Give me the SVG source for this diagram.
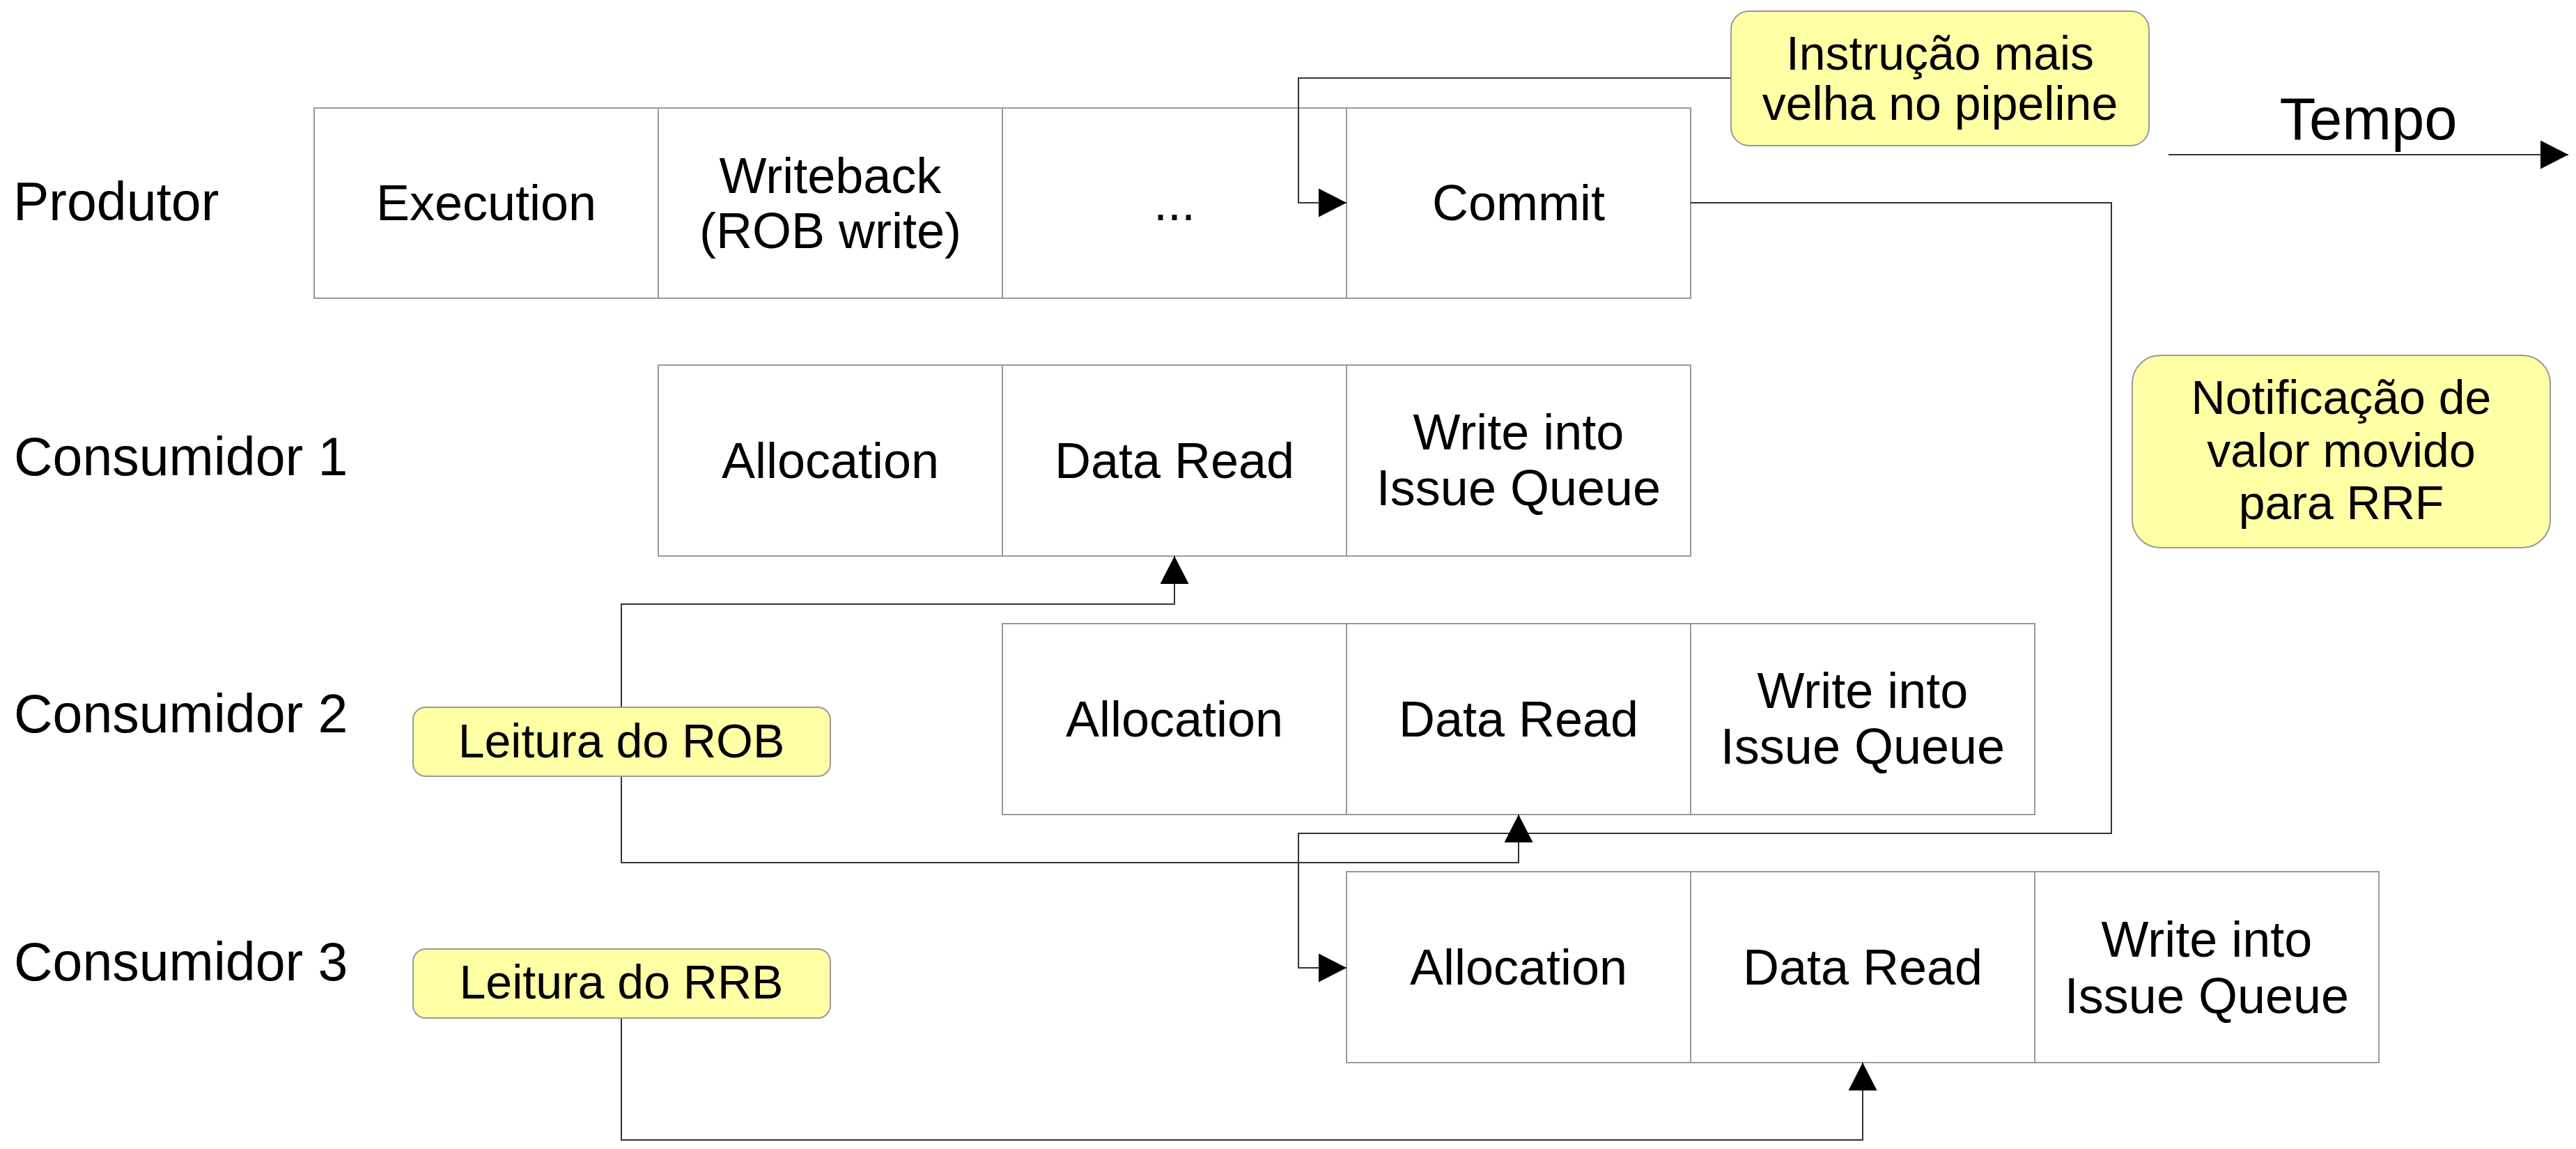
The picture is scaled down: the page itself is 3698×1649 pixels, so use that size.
<svg xmlns="http://www.w3.org/2000/svg" width="3698" height="1649" viewBox="0 0 3698 1649">
<style>
.cell{fill:#ffffff;stroke:#9a9a9a;stroke-width:2}
.note{fill:#ffffa6;stroke:#999999;stroke-width:2}
.t{font-family:"Liberation Sans",Arial,sans-serif;fill:#000000}
.c{font-size:72px;text-anchor:middle}
.n{font-size:68px;text-anchor:middle}
.lbl{font-size:77px}
.conn{fill:none;stroke:#333333;stroke-width:2}
</style>
<defs>
<marker id="arr" viewBox="0 0 40 41" refX="40" refY="20.5" markerWidth="40" markerHeight="41" markerUnits="userSpaceOnUse" orient="auto">
<path d="M0,0 L40,20.5 L0,41 z" fill="#000000"/>
</marker>
</defs>
<rect width="3698" height="1649" fill="#ffffff"/>

<g id="labels">
<text class="t lbl" x="19" y="316">Produtor</text>
<text class="t lbl" x="20" y="682">Consumidor 1</text>
<text class="t lbl" x="20" y="1051">Consumidor 2</text>
<text class="t lbl" x="20" y="1407">Consumidor 3</text>
</g>

<g id="produtor-execution"><rect class="cell" x="451" y="155" width="494" height="273"/><text class="t c" x="698" y="316">Execution</text></g>
<g id="produtor-writeback"><rect class="cell" x="945" y="155" width="494" height="273"/><text class="t c" x="1192" y="277">Writeback</text><text class="t c" x="1192" y="356">(ROB write)</text></g>
<g id="produtor-dots"><rect class="cell" x="1439" y="155" width="494" height="273"/><text class="t c" x="1686" y="316">...</text></g>
<g id="produtor-commit"><rect class="cell" x="1933" y="155" width="494" height="273"/><text class="t c" x="2180" y="316">Commit</text></g>

<g id="c1-allocation"><rect class="cell" x="945" y="524" width="494" height="274"/><text class="t c" x="1192" y="686">Allocation</text></g>
<g id="c1-dataread"><rect class="cell" x="1439" y="524" width="494" height="274"/><text class="t c" x="1686" y="686">Data Read</text></g>
<g id="c1-write"><rect class="cell" x="1933" y="524" width="494" height="274"/><text class="t c" x="2180" y="645">Write into</text><text class="t c" x="2180" y="725">Issue Queue</text></g>

<g id="c2-allocation"><rect class="cell" x="1439" y="895" width="494" height="274"/><text class="t c" x="1686" y="1057">Allocation</text></g>
<g id="c2-dataread"><rect class="cell" x="1933" y="895" width="494" height="274"/><text class="t c" x="2180" y="1057">Data Read</text></g>
<g id="c2-write"><rect class="cell" x="2427" y="895" width="494" height="274"/><text class="t c" x="2674" y="1016">Write into</text><text class="t c" x="2674" y="1096">Issue Queue</text></g>

<g id="c3-allocation"><rect class="cell" x="1933" y="1251" width="494" height="274"/><text class="t c" x="2180" y="1413">Allocation</text></g>
<g id="c3-dataread"><rect class="cell" x="2427" y="1251" width="494" height="274"/><text class="t c" x="2674" y="1413">Data Read</text></g>
<g id="c3-write"><rect class="cell" x="2921" y="1251" width="494" height="274"/><text class="t c" x="3168" y="1373">Write into</text><text class="t c" x="3168" y="1454">Issue Queue</text></g>

<g id="connectors">
<path class="conn" d="M2485,112 H1864 V291 H1933" marker-end="url(#arr)"/>
<path class="conn" d="M2427,291 H3031 V1196 H1864 V1389 H1933" marker-end="url(#arr)"/>
<path class="conn" d="M892,1015 V867 H1686 V798" marker-end="url(#arr)"/>
<path class="conn" d="M892,1114 V1238 H2180 V1169" marker-end="url(#arr)"/>
<path class="conn" d="M892,1461 V1636 H2674 V1525" marker-end="url(#arr)"/>
<path class="conn" d="M3113,222 H3687" marker-end="url(#arr)"/>
</g>

<g id="note-instrucao"><rect class="note" x="2485" y="16" width="600" height="193" rx="26" ry="26"/><text class="t n" x="2785" y="100">Instrução mais</text><text class="t n" x="2785" y="172">velha no pipeline</text></g>
<g id="note-notificacao"><rect class="note" x="3061" y="510" width="600" height="276" rx="40" ry="40"/><text class="t n" x="3361" y="594">Notificação de</text><text class="t n" x="3361" y="670">valor movido</text><text class="t n" x="3361" y="745">para RRF</text></g>
<g id="note-rob"><rect class="note" x="593" y="1015" width="599" height="99" rx="18" ry="18"/><text class="t n" x="892" y="1087">Leitura do ROB</text></g>
<g id="note-rrb"><rect class="note" x="593" y="1362" width="599" height="99" rx="18" ry="18"/><text class="t n" x="892" y="1433">Leitura do RRB</text></g>
<g id="tempo"><text class="t" x="3400" y="200" font-size="85" text-anchor="middle">Tempo</text></g>
</svg>
